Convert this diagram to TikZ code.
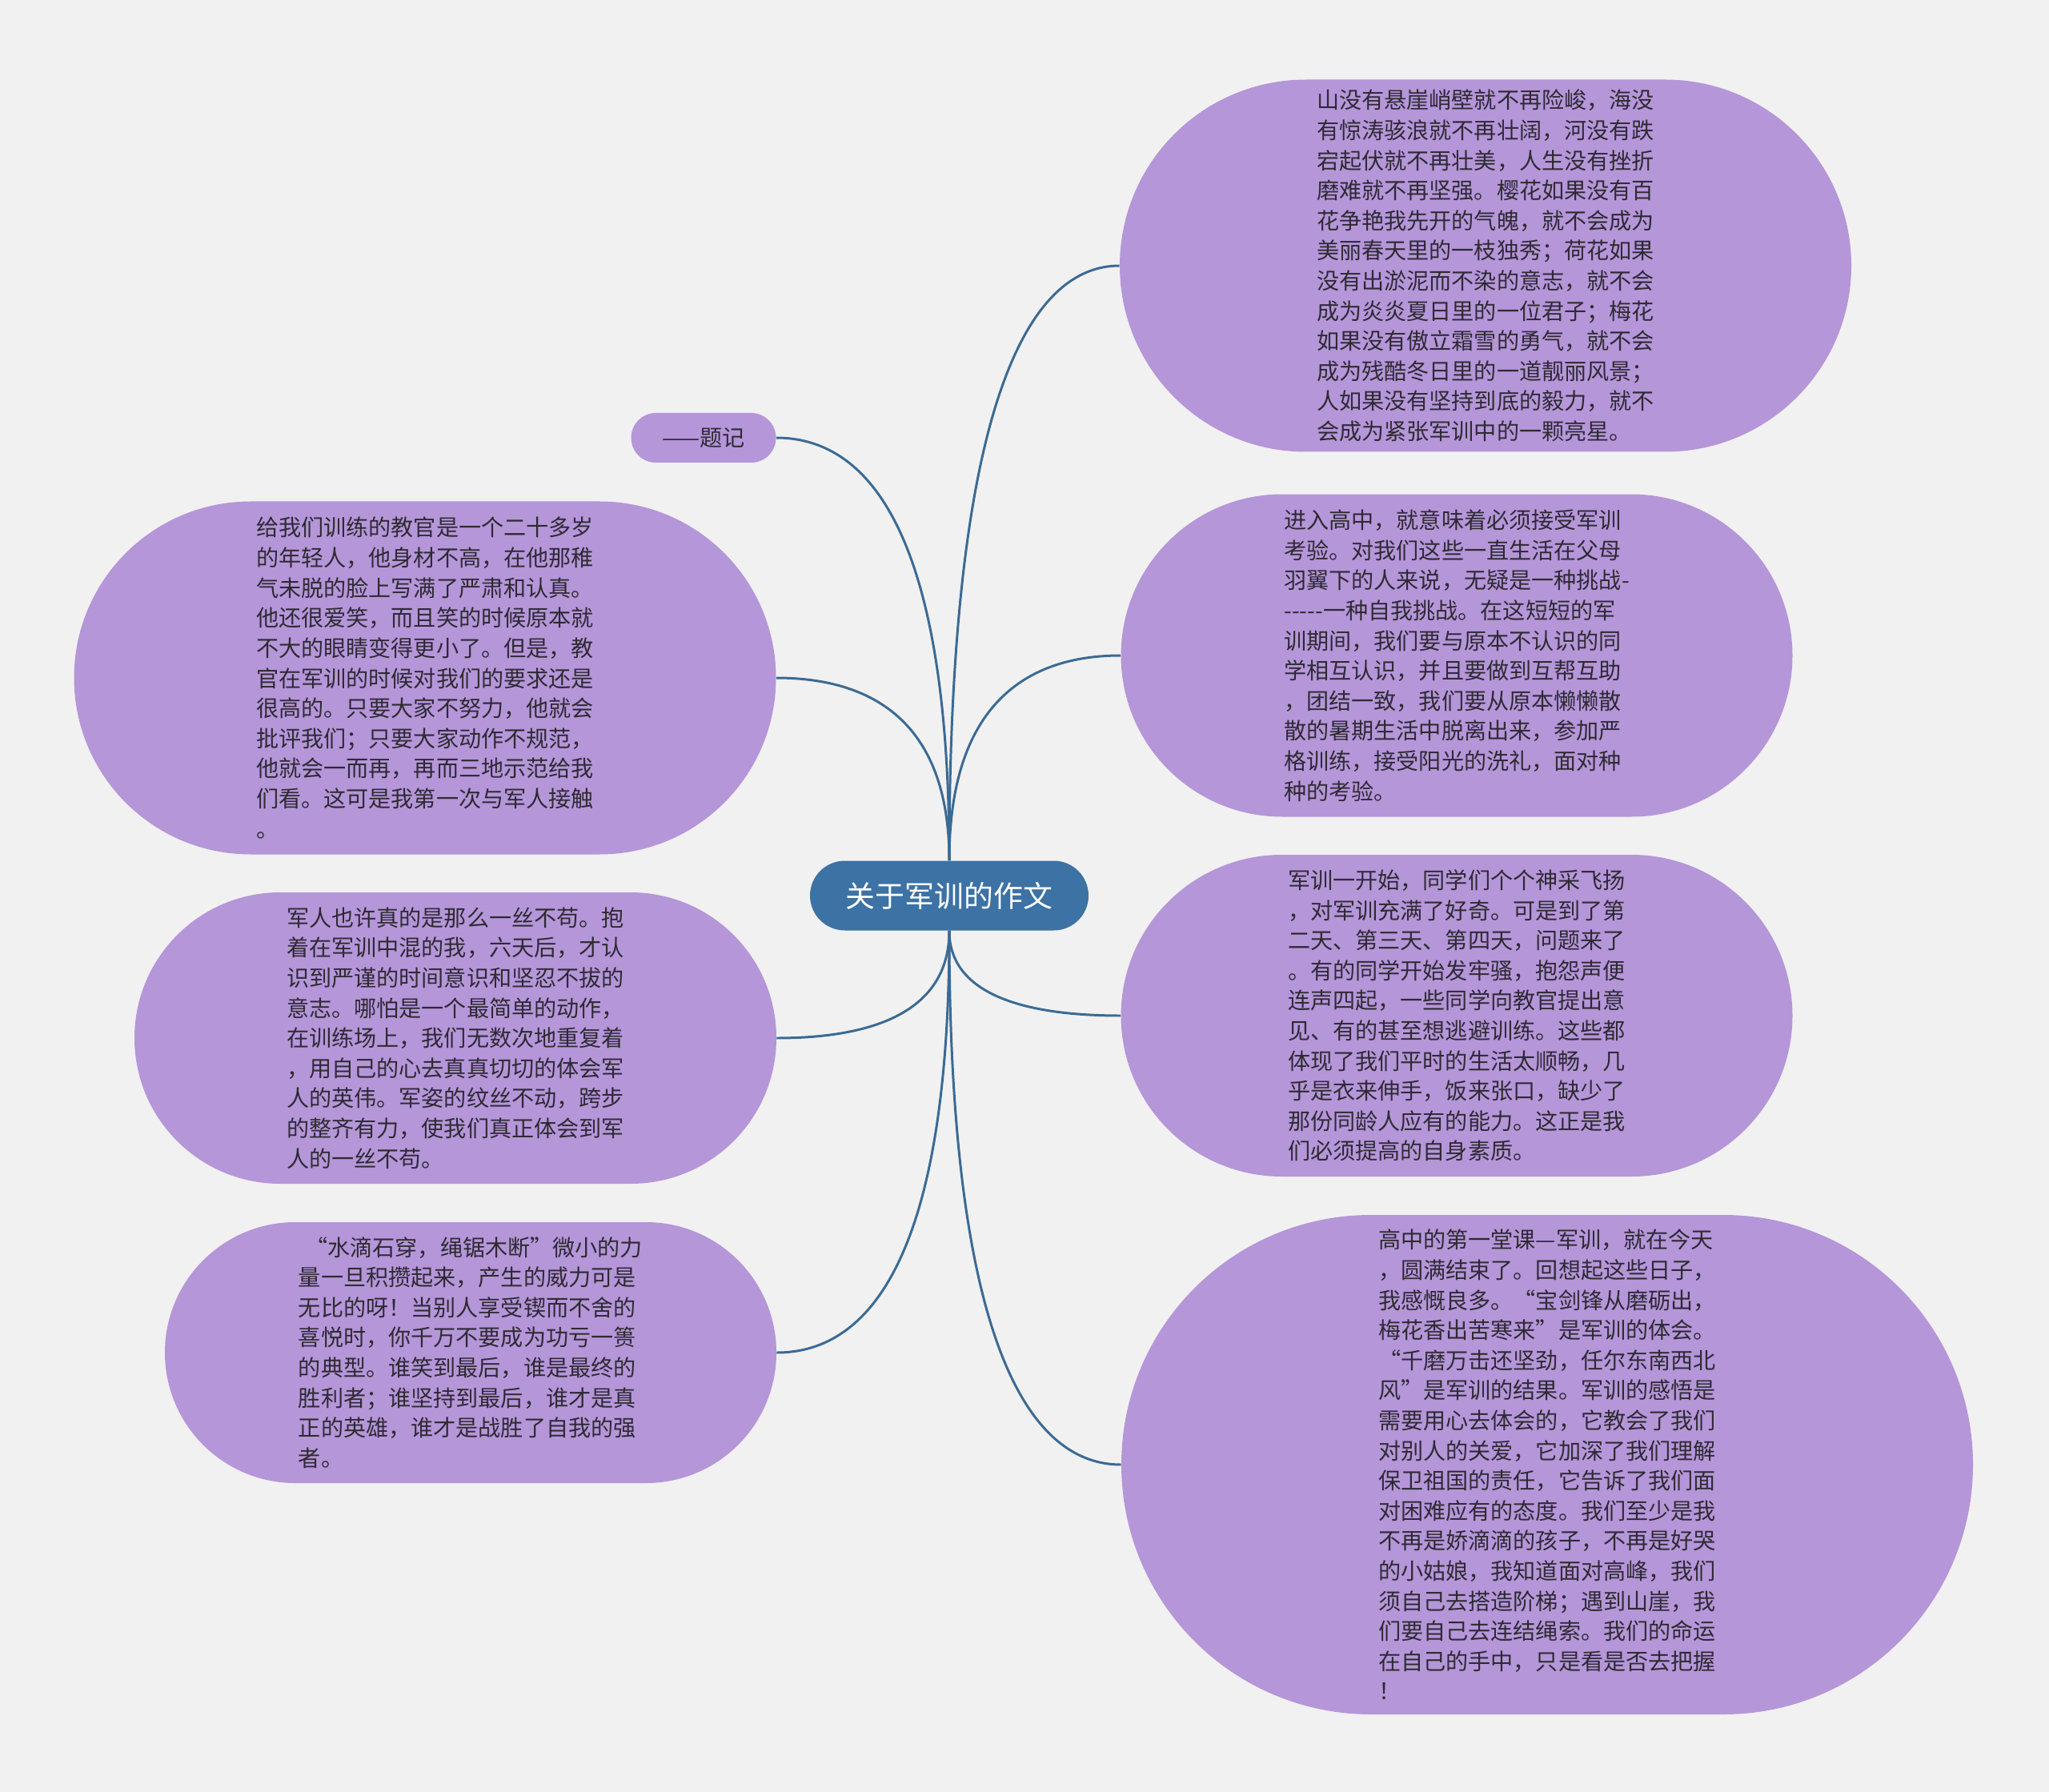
\documentclass[tikz,border=0pt]{standalone}
\usepackage{fontspec}
\setmainfont{Noto Sans CJK SC}
\usepackage{xcolor}
\definecolor{bg-grey}{HTML}{F1F1F1}
\definecolor{topic-purple}{HTML}{B596D9}
\definecolor{root-blue}{HTML}{3C72A4}
\definecolor{link-blue}{HTML}{3B6A94}
\definecolor{body-text}{HTML}{2E2A33}

\begin{document}
\begin{tikzpicture}[
    every node/.style={font=\fontsize{16pt}{21.4pt}\selectfont},
    topic/.style={fill=topic-purple, text=body-text, align=left, inner sep=0pt},
    link/.style={draw=link-blue, line width=1.7pt}]
  \fill[bg-grey] (0,0) rectangle (51.2,-44.78);
  % centre
  \node[fill=root-blue, text=white, rounded corners=0.87cm,
        minimum width=6.96cm, minimum height=1.74cm,
        font=\fontsize{21pt}{25pt}\selectfont]
        (ROOT) at (23.72,-22.38) {关于军训的作文};
  % right side
  \node[topic, rounded corners=4.65cm, minimum width=18.28cm, minimum height=9.30cm]
        (R1) at (37.12,-6.64)
        {山没有悬崖峭壁就不再险峻，海没\\
         有惊涛骇浪就不再壮阔，河没有跌\\
         宕起伏就不再壮美，人生没有挫折\\
         磨难就不再坚强。樱花如果没有百\\
         花争艳我先开的气魄，就不会成为\\
         美丽春天里的一枝独秀；荷花如果\\
         没有出淤泥而不染的意志，就不会\\
         成为炎炎夏日里的一位君子；梅花\\
         如果没有傲立霜雪的勇气，就不会\\
         成为残酷冬日里的一道靓丽风景；\\
         人如果没有坚持到底的毅力，就不\\
         会成为紧张军训中的一颗亮星。};
  \node[topic, rounded corners=4.03cm, minimum width=16.78cm, minimum height=8.06cm]
        (R2) at (36.40,-16.38)
        {进入高中，就意味着必须接受军训\\
         考验。对我们这些一直生活在父母\\
         羽翼下的人来说，无疑是一种挑战-\\
         -\kern0pt-\kern0pt-\kern0pt-\kern0pt-一种自我挑战。在这短短的军\\
         训期间，我们要与原本不认识的同\\
         学相互认识，并且要做到互帮互助\\
         ，团结一致，我们要从原本懒懒散\\
         散的暑期生活中脱离出来，参加严\\
         格训练，接受阳光的洗礼，面对种\\
         种的考验。};
  \node[topic, rounded corners=4.02cm, minimum width=16.78cm, minimum height=8.04cm]
        (R3) at (36.40,-25.38)
        {军训一开始，同学们个个神采飞扬\\
         ，对军训充满了好奇。可是到了第\\
         二天、第三天、第四天，问题来了\\
         。有的同学开始发牢骚，抱怨声便\\
         连声四起，一些同学向教官提出意\\
         见、有的甚至想逃避训练。这些都\\
         体现了我们平时的生活太顺畅，几\\
         乎是衣来伸手，饭来张口，缺少了\\
         那份同龄人应有的能力。这正是我\\
         们必须提高的自身素质。};
  \node[topic, rounded corners=6.24cm, minimum width=21.28cm, minimum height=12.48cm]
        (R4) at (38.66,-36.60)
        {高中的第一堂课—军训，就在今天\\
         ，圆满结束了。回想起这些日子，\\
         我感慨良多。“宝剑锋从磨砺出，\\
         梅花香出苦寒来”是军训的体会。\\
         “千磨万击还坚劲，任尔东南西北\\
         风”是军训的结果。军训的感悟是\\
         需要用心去体会的，它教会了我们\\
         对别人的关爱，它加深了我们理解\\
         保卫祖国的责任，它告诉了我们面\\
         对困难应有的态度。我们至少是我\\
         不再是娇滴滴的孩子，不再是好哭\\
         的小姑娘，我知道面对高峰，我们\\
         须自己去搭造阶梯；遇到山崖，我\\
         们要自己去连结绳索。我们的命运\\
         在自己的手中，只是看是否去把握\\
         ！};
  % left side
  \node[topic, rounded corners=0.62cm, minimum width=3.62cm, minimum height=1.24cm]
        (NOTE) at (17.58,-10.94) {——题记};
  \node[topic, rounded corners=4.41cm, minimum width=17.54cm, minimum height=8.82cm]
        (L1) at (10.62,-16.94)
        {给我们训练的教官是一个二十多岁\\
         的年轻人，他身材不高，在他那稚\\
         气未脱的脸上写满了严肃和认真。\\
         他还很爱笑，而且笑的时候原本就\\
         不大的眼睛变得更小了。但是，教\\
         官在军训的时候对我们的要求还是\\
         很高的。只要大家不努力，他就会\\
         批评我们；只要大家动作不规范，\\
         他就会一而再，再而三地示范给我\\
         们看。这可是我第一次与军人接触\\
         。};
  \node[topic, rounded corners=3.64cm, minimum width=16.04cm, minimum height=7.28cm]
        (L2) at (11.38,-25.94)
        {军人也许真的是那么一丝不苟。抱\\
         着在军训中混的我，六天后，才认\\
         识到严谨的时间意识和坚忍不拔的\\
         意志。哪怕是一个最简单的动作，\\
         在训练场上，我们无数次地重复着\\
         ，用自己的心去真真切切的体会军\\
         人的英伟。军姿的纹丝不动，跨步\\
         的整齐有力，使我们真正体会到军\\
         人的一丝不苟。};
  \node[topic, rounded corners=3.26cm, minimum width=15.28cm, minimum height=6.52cm]
        (L3) at (11.76,-33.80)
        {\hspace{0.3em}“水滴石穿，绳锯木断”微小的力\\
         量一旦积攒起来，产生的威力可是\\
         无比的呀！当别人享受锲而不舍的\\
         喜悦时，你千万不要成为功亏一篑\\
         的典型。谁笑到最后，谁是最终的\\
         胜利者；谁坚持到最后，谁才是真\\
         正的英雄，谁才是战胜了自我的强\\
         者。};
  % branches
  \draw[link] (ROOT.north) .. controls +(0,11.78) and +(-2.15,0) .. (R1.west);
  \draw[link] (ROOT.north) .. controls +(0,4.10) and +(-2.15,0) .. (R2.west);
  \draw[link] (ROOT.south) .. controls +(0,-1.70) and +(-2.15,0) .. (R3.west);
  \draw[link] (ROOT.south) .. controls +(0,-10.68) and +(-2.15,0) .. (R4.west);
  \draw[link] (ROOT.north) .. controls +(0,8.46) and +(2.17,0) .. (NOTE.east);
  \draw[link] (ROOT.north) .. controls +(0,3.66) and +(2.17,0) .. (L1.east);
  \draw[link] (ROOT.south) .. controls +(0,-2.15) and +(2.17,0) .. (L2.east);
  \draw[link] (ROOT.south) .. controls +(0,-8.44) and +(2.17,0) .. (L3.east);
\end{tikzpicture}
\end{document}
